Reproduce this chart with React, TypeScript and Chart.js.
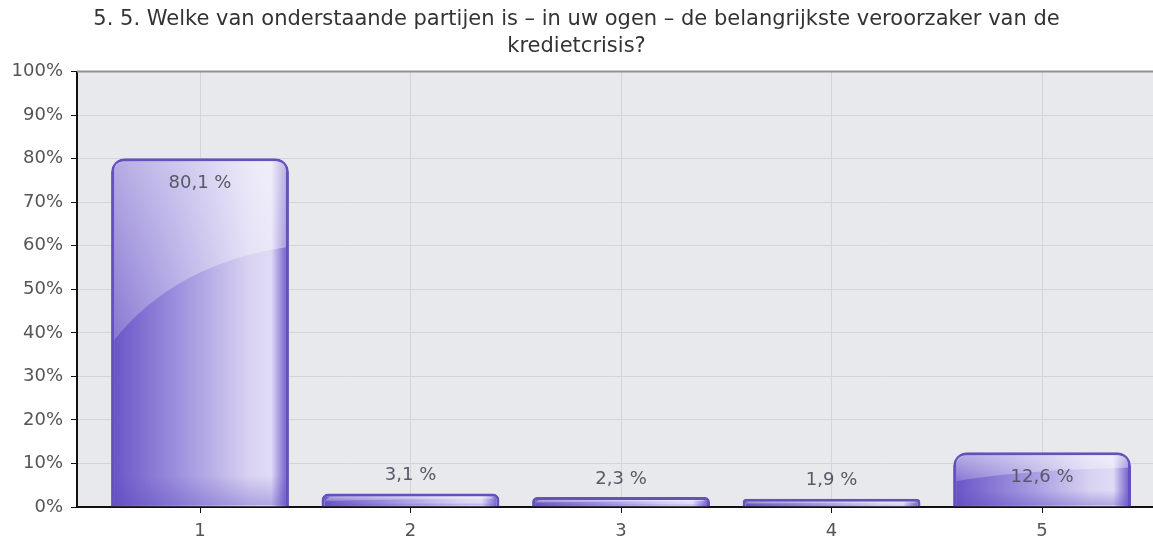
import React, { useEffect, useRef } from "react";
import { Chart, registerables } from "chart.js";

Chart.register(...registerables);

const titleLines = [
  "5. 5. Welke van onderstaande partijen is \u2013 in uw ogen \u2013 de belangrijkste veroorzaker van de",
  "kredietcrisis?",
];
const categories = ["1", "2", "3", "4", "5"];
const values = [80.1, 3.1, 2.3, 1.9, 12.6];
const valueLabels = ["80,1 %", "3,1 %", "2,3 %", "1,9 %", "12,6 %"];

const FONT = "'DejaVu Sans', 'Liberation Sans', Arial, sans-serif";

function roundedTopPath(c: CanvasRenderingContext2D, l: number, t: number, r: number, b: number, rad: number) {
  const rr = Math.max(0, Math.min(rad, (r - l) / 2, (b - t)));
  c.beginPath();
  c.moveTo(l, b);
  c.lineTo(l, t + rr);
  c.quadraticCurveTo(l, t, l + rr, t);
  c.lineTo(r - rr, t);
  c.quadraticCurveTo(r, t, r, t + rr);
  c.lineTo(r, b);
  c.closePath();
}

const bgPlugin = {
  id: "plotBg",
  beforeDraw(chart: any) {
    const { ctx, chartArea: a } = chart;
    if (!a) return;
    ctx.save();
    ctx.fillStyle = "#e7e9ed";
    ctx.fillRect(a.left, a.top, a.right - a.left, a.bottom - a.top);
    ctx.restore();
  },
  afterDraw(chart: any) {
    const { ctx, chartArea: a } = chart;
    ctx.save();
    ctx.strokeStyle = "#8f9092";
    ctx.lineWidth = 2;
    ctx.beginPath();
    ctx.moveTo(a.left, a.top);
    ctx.lineTo(a.right, a.top);
    ctx.stroke();
    ctx.restore();
  },
};

const glossPlugin = {
  id: "gloss",
  afterDatasetsDraw(chart: any) {
    const ctx = chart.ctx as CanvasRenderingContext2D;
    const meta = chart.getDatasetMeta(0);
    meta.data.forEach((el: any) => {
      const l = el.x - el.width / 2 + 3;
      const r = el.x + el.width / 2 - 3;
      const t = el.y + 3;
      const b = el.base - 1;
      const h = b - t;
      if (h <= 2) return;
      ctx.save();
      roundedTopPath(ctx, l, t, r, b, 10);
      ctx.clip();
      ctx.beginPath();
      ctx.moveTo(l, t);
      ctx.lineTo(r, t);
      ctx.lineTo(r, t + h * 0.25);
      ctx.quadraticCurveTo(l + (r - l) * 0.35, t + h * 0.3, l, t + h * 0.52);
      ctx.closePath();
      const g = ctx.createLinearGradient(0, t, 0, t + h * 0.52);
      g.addColorStop(0, "rgba(255,255,255,0.5)");
      g.addColorStop(1, "rgba(255,255,255,0.2)");
      ctx.fillStyle = g;
      ctx.fill();
      const bh = Math.min(30, h * 0.3);
      const g2 = ctx.createLinearGradient(0, b - bh, 0, b);
      g2.addColorStop(0, "rgba(90,70,190,0)");
      g2.addColorStop(1, "rgba(90,70,190,0.35)");
      ctx.fillStyle = g2;
      ctx.fillRect(l, b - bh, r - l, bh);
      ctx.restore();
    });
  },
};

const labelPlugin = {
  id: "valueLabels",
  afterDatasetsDraw(chart: any) {
    const ctx = chart.ctx as CanvasRenderingContext2D;
    const meta = chart.getDatasetMeta(0);
    ctx.save();
    ctx.font = `18px ${FONT}`;
    ctx.fillStyle = "#565a66";
    ctx.textAlign = "center";
    ctx.textBaseline = "middle";
    meta.data.forEach((el: any, i: number) => {
      const h = el.base - el.y;
      const y = h > 40 ? el.y + 25 : el.y - 18;
      ctx.fillText(valueLabels[i], el.x, y);
    });
    ctx.restore();
  },
};

export default function App() {
  const ref = useRef<HTMLCanvasElement | null>(null);
  useEffect(() => {
    document.body.style.margin = "0";
    const canvas = ref.current!;
    const chart = new Chart(canvas, {
      type: "bar",
      data: {
        datasets: [
          {
            data: values.map((v, i) => ({ x: i + 1, y: v })),
            backgroundColor: (c: any) => {
              const ch = c.chart;
              const xs = ch.scales && ch.scales.x;
              if (!ch.chartArea || !xs || !c.parsed) return "#9a8cde";
              const px = xs.getPixelForValue(c.parsed.x);
              const half = (xs.getPixelForValue(c.parsed.x + 1) - px) * 0.4225;
              const g = ch.ctx.createLinearGradient(px - half, 0, px + half, 0);
              g.addColorStop(0, "#6651c2");
              g.addColorStop(0.08, "#7461cc");
              g.addColorStop(0.4, "#a194df");
              g.addColorStop(0.78, "#d9d3f2");
              g.addColorStop(0.9, "#e0dbf5");
              g.addColorStop(0.96, "#9687d9");
              g.addColorStop(1, "#6651c2");
              return g;
            },
            borderColor: "#6650be",
            borderWidth: 3,
            borderRadius: { topLeft: 14, topRight: 14, bottomLeft: 0, bottomRight: 0 },
            borderSkipped: "start",
            categoryPercentage: 1,
            barPercentage: 0.845,
          } as any,
        ],
      },
      options: {
        animation: false,
        responsive: false,
        maintainAspectRatio: false,
        layout: { padding: 0 },
        plugins: {
          legend: { display: false },
          tooltip: { enabled: false },
          title: {
            display: true,
            text: titleLines,
            color: "#333333",
            font: { family: FONT, size: 21, weight: "normal", lineHeight: 1.3 },
            padding: { top: 6, bottom: 11 },
          },
        },
        scales: {
          x: {
            type: "linear",
            offset: false,
            min: 0.4157,
            max: 5.527,
            afterFit: (s: any) => { s.height = 35; },
            ticks: {
              stepSize: 1,
              includeBounds: false,
              autoSkip: false,
              maxRotation: 0,
              color: "#555555",
              font: { family: FONT, size: 18 },
              padding: 8,
              callback: (v: any) => {
                const idx = Math.round(Number(v)) - 1;
                return Number.isInteger(Number(v)) && categories[idx] ? categories[idx] : "";
              },
            },
            grid: { offset: false, color: "#d3d5d9", lineWidth: 1, tickColor: "#111", tickLength: 6 },
            border: { display: true, color: "#111111", width: 2 },
          },
          y: {
            min: 0,
            max: 100,
            afterFit: (s: any) => { s.width = 77; },
            ticks: {
              stepSize: 10,
              color: "#555555",
              font: { family: FONT, size: 18 },
              padding: 8,
              callback: (v: any) => `${v}%`,
            },
            grid: { color: "#d3d5d9", lineWidth: 1, tickColor: "#111", tickLength: 6 },
            border: { display: true, color: "#111111", width: 2 },
          },
        },
      } as any,
      plugins: [bgPlugin, glossPlugin, labelPlugin],
    });
    return () => chart.destroy();
  }, []);
  return (
    <div style={{ width: 1153, height: 542, background: "#ffffff" }}>
      <canvas ref={ref} width={1153} height={542} style={{ display: "block" }} />
    </div>
  );
}
